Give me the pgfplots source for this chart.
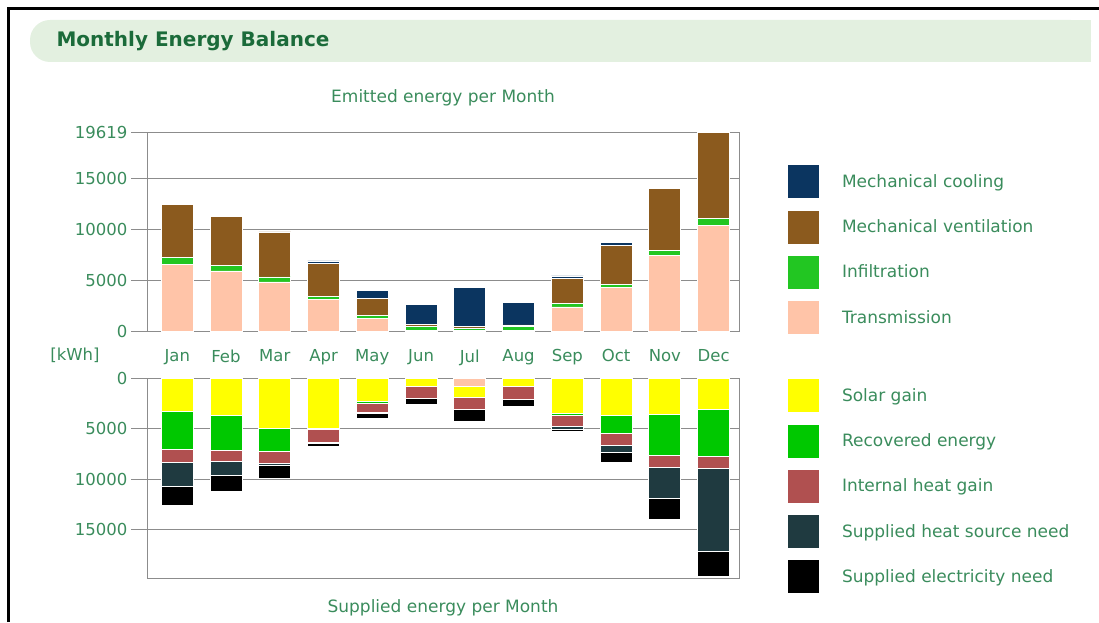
\documentclass[border=0pt]{standalone}
\usepackage{pgfplots}
\pgfplotsset{compat=1.18}
\usepackage{fontspec}
\setmainfont{DejaVu Sans}
\definecolor{titlebg}{HTML}{E3F0E0}
\definecolor{titlegreen}{HTML}{1B6B3A}
\definecolor{txtgreen}{HTML}{3A8C5C}
\definecolor{axgray}{HTML}{8C8C8C}
\definecolor{cCool}{HTML}{0B3560}
\definecolor{cVent}{HTML}{8B5A1E}
\definecolor{cInf}{HTML}{22C622}
\definecolor{cTrans}{HTML}{FFC4A8}
\definecolor{cSolar}{HTML}{FFFF00}
\definecolor{cRec}{HTML}{00C800}
\definecolor{cInt}{HTML}{B05050}
\definecolor{cHeat}{HTML}{1F3A40}
\definecolor{cElec}{HTML}{000000}

\pgfplotstableread{
x T I V C
0 6580 660 5260 0
1 5920 500 4830 0
2 4840 490 4440 0
3 3130 300 3220 260
4 1220 330 1640 820
5 50 400 200 1990
6 30 250 150 3890
7 50 400 150 2240
8 2370 330 2470 260
9 4280 330 3850 260
10 7470 490 6090 0
11 10430 660 8529 0
}\emitted

\pgfplotstableread{
x Tr S R In H E
0 0 3270 3740 1280 2420 1890
1 0 3670 3440 1080 1410 1640
2 0 5010 2200 1240 130 1340
3 0 5000 80 1240 120 330
4 0 2290 230 920 100 470
5 0 850 0 1200 0 600
6 850 1100 0 1150 0 1220
7 0 860 0 1240 0 740
8 0 3500 170 1140 240 250
9 0 3670 1800 1180 720 980
10 0 3600 4030 1210 3050 2100
11 0 3110 4650 1210 8160 2420
}\supplied

\pgfplotsset{
  common/.style={
    scale only axis, width=592pt,
    ybar stacked, bar width=32pt,
    xmin=-0.62, xmax=11.52,
    xtick={0,...,11},
    scaled y ticks=false,
    ymajorgrids, grid style={axgray, line width=1pt},
    axis line style={axgray, line width=1pt},
    tick align=outside, ytick pos=left, xtick pos=bottom,
    major tick length=16pt,
    ytick style={axgray, line width=1pt},
    xtick style={draw=none},
    ticklabel style={font=\fontsize{16.5}{19}\selectfont, text=txtgreen},
    legend image code/.code={\fill[##1] (0pt,-17pt) rectangle (32pt,17pt);},
    legend style={draw=none, fill=none, at={(1,1)}, anchor=north west,
      inner sep=0pt, row sep=10.5pt, column sep=22pt,
      nodes={inner sep=0pt, text=txtgreen, font=\fontsize{17}{20}\selectfont}},
    legend cell align=left,
  },
  seg/.style={fill=#1, draw=white, line width=0.8pt},
}

\begin{document}
\begin{tikzpicture}[x=1pt,y=1pt]
\useasboundingbox (0,0) rectangle (1099,622);
% title band
\fill[titlebg, rounded corners=20pt] (30,560) rectangle (1091,602);
\fill[titlebg] (600,560) rectangle (1091,602);
\node[anchor=west, font=\bfseries\fontsize{20}{24}\selectfont, text=titlegreen] at (53,581) {Monthly Energy Balance};
% frame
\draw[line width=3pt] (8,0) -- (8,613) -- (1099,613);

\node[font=\fontsize{17}{20}\selectfont, text=txtgreen] at (443,524) {Emitted energy per Month};
\node[font=\fontsize{17}{20}\selectfont, text=txtgreen] at (443,14) {Supplied energy per Month};
\node[font=\fontsize{16.5}{19}\selectfont, text=txtgreen] at (75,267) {[kWh]};

\begin{axis}[common,
  at={(147pt,291pt)}, anchor=south west, height=199pt,
  ymin=0, ymax=19619,
  ytick={0,5000,10000,15000,19619},
  yticklabels={0,5000,10000,15000,19619},
  xticklabels={Jan,Feb,Mar,Apr,May,Jun,Jul,Aug,Sep,Oct,Nov,Dec},
  xticklabel style={yshift=1pt},
  reverse legend,
  legend style={xshift=48pt, yshift=-32pt},
]
\addplot[seg=cTrans] table[x=x,y=T] {\emitted};
\addplot[seg=cInf] table[x=x,y=I] {\emitted};
\addplot[seg=cVent] table[x=x,y=V] {\emitted};
\addplot[seg=cCool] table[x=x,y=C] {\emitted};
\legend{Transmission,Infiltration,Mechanical ventilation,Mechanical cooling}
\end{axis}

\begin{axis}[common,
  at={(147pt,44pt)}, anchor=south west, height=200pt,
  ymin=0, ymax=19740, y dir=reverse,
  ytick={0,5000,10000,15000},
  yticklabels={0,5000,10000,15000},
  xticklabels={},
  legend style={xshift=48pt, yshift=0pt},
]
\addplot[seg=cTrans, forget plot] table[x=x,y=Tr] {\supplied};
\addplot[seg=cSolar] table[x=x,y=S] {\supplied};
\addplot[seg=cRec] table[x=x,y=R] {\supplied};
\addplot[seg=cInt] table[x=x,y=In] {\supplied};
\addplot[seg=cHeat] table[x=x,y=H] {\supplied};
\addplot[seg=cElec] table[x=x,y=E] {\supplied};
\legend{Solar gain,Recovered energy,Internal heat gain,Supplied heat source need,Supplied electricity need}
\end{axis}
\end{tikzpicture}
\end{document}
